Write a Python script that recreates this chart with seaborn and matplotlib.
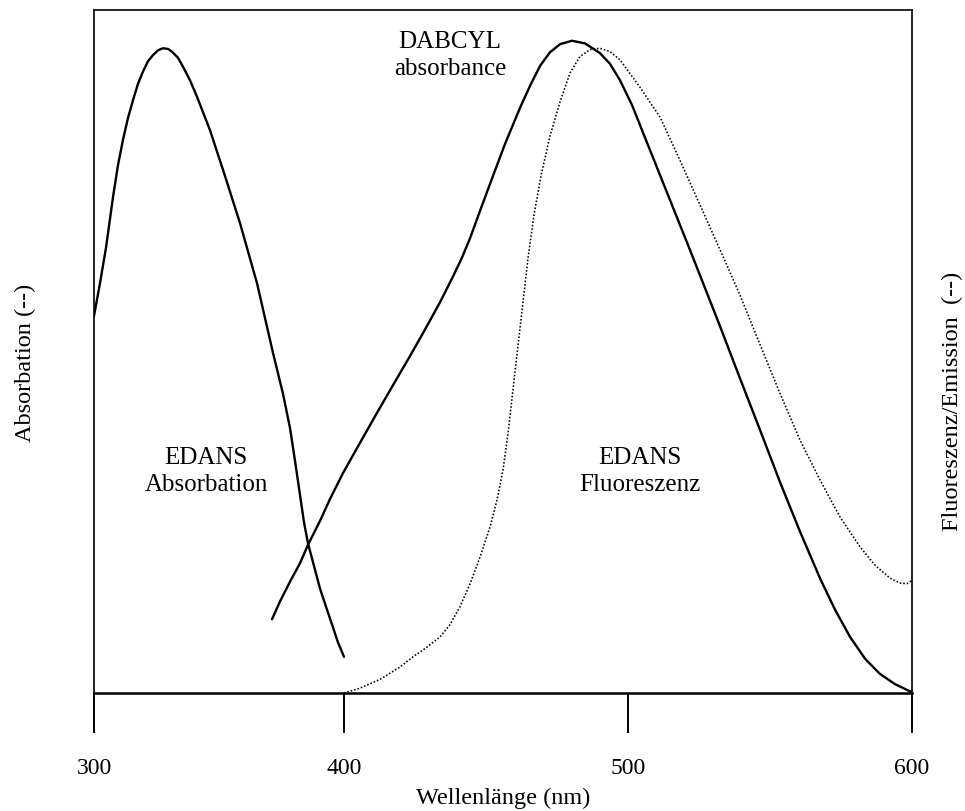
import numpy as np
import pandas as pd
import matplotlib
matplotlib.use("Agg")
import matplotlib.pyplot as plt
import seaborn as sns

# ---------------- data (wavelength in nm, relative intensity) ----------------
edans_abs_wl = [300.0, 302.4, 304.8, 307.6, 309.6, 311.6, 313.6, 315.6, 317.6, 319.6,
                321.6, 323.6, 325.6, 327.6, 329.6, 331.2, 333.6, 335.6, 338.4, 341.2,
                346.4, 351.6, 358.4, 365.2, 371.6, 375.6, 378.4, 380.4, 382.4, 384.0,
                385.6, 388.0, 390.4, 393.2, 395.6, 397.6, 400.0]
edans_abs_val = [0.552, 0.600, 0.652, 0.726, 0.773, 0.810, 0.842, 0.868, 0.892, 0.910,
                 0.925, 0.934, 0.941, 0.944, 0.943, 0.939, 0.930, 0.917, 0.897, 0.873,
                 0.824, 0.766, 0.688, 0.600, 0.498, 0.438, 0.388, 0.340, 0.290, 0.250,
                 0.219, 0.186, 0.153, 0.122, 0.096, 0.074, 0.053]

dabcyl_wl = [371.2, 374.4, 378.4, 382.4, 385.6, 390.4, 394.4, 399.6, 405.6, 411.6,
             417.3, 423.2, 428.5, 433.8, 438.4, 441.5, 444.4, 447.9, 452.1, 456.7,
             462.0, 465.5, 469.0, 472.5, 476.1, 480.3, 484.9, 490.1, 493.7, 497.2,
             501.4, 506.0, 511.3, 516.5, 521.8, 527.1, 532.4, 539.4, 546.5, 553.5,
             560.6, 567.6, 572.9, 578.2, 583.5, 588.7, 594.0, 600.0]
dabcyl_val = [0.108, 0.134, 0.163, 0.190, 0.217, 0.252, 0.284, 0.322, 0.366, 0.410,
              0.451, 0.493, 0.532, 0.572, 0.610, 0.637, 0.666, 0.706, 0.753, 0.804,
              0.857, 0.889, 0.918, 0.938, 0.950, 0.955, 0.951, 0.937, 0.921, 0.897,
              0.861, 0.813, 0.758, 0.704, 0.649, 0.593, 0.537, 0.461, 0.385, 0.309,
              0.236, 0.168, 0.122, 0.082, 0.050, 0.028, 0.013, 0.001]

edans_fl_wl = [400.0, 405.6, 412.7, 419.7, 424.3, 428.5, 433.8, 437.3, 440.8, 444.4,
               447.9, 451.4, 453.9, 456.0, 457.7, 459.5, 461.3, 463.0, 464.8, 466.9,
               469.4, 472.5, 476.1, 479.6, 483.1, 486.6, 490.1, 493.7, 497.2, 504.2,
               511.3, 518.3, 525.4, 532.4, 539.4, 546.5, 553.5, 560.6, 567.6, 574.6,
               581.7, 587.0, 592.3, 595.8, 598.2, 600.0]
edans_fl_val = [0.000, 0.007, 0.020, 0.038, 0.053, 0.065, 0.082, 0.100, 0.126, 0.160,
                0.199, 0.243, 0.283, 0.327, 0.378, 0.444, 0.510, 0.571, 0.637, 0.700,
                0.758, 0.815, 0.866, 0.908, 0.932, 0.942, 0.944, 0.939, 0.927, 0.887,
                0.843, 0.780, 0.714, 0.649, 0.583, 0.510, 0.439, 0.370, 0.312, 0.258,
                0.214, 0.187, 0.168, 0.161, 0.160, 0.165]

x_ticks = [300, 400, 500, 600]

# ---------------- style ----------------
sns.set_style("white")
plt.rcParams["font.family"] = ["Liberation Serif", "DejaVu Serif"]
plt.rcParams["text.color"] = "black"
plt.rcParams["axes.labelcolor"] = "black"
plt.rcParams["xtick.color"] = "black"

fig = plt.figure(figsize=(9.65, 8.11), dpi=100)
ax = fig.add_axes([94 / 965, (811 - 693) / 811, (912 - 94) / 965, (693 - 10) / 811])

df_abs = pd.DataFrame({"wl": edans_abs_wl, "val": edans_abs_val})
df_dab = pd.DataFrame({"wl": dabcyl_wl, "val": dabcyl_val})
df_fl = pd.DataFrame({"wl": edans_fl_wl, "val": edans_fl_val})

sns.lineplot(data=df_abs, x="wl", y="val", ax=ax, color="black", lw=1.7,
             estimator=None, sort=False)
sns.lineplot(data=df_dab, x="wl", y="val", ax=ax, color="black", lw=1.7,
             estimator=None, sort=False)
sns.lineplot(data=df_fl, x="wl", y="val", ax=ax, color="black", lw=1.15,
             estimator=None, sort=False, linestyle=(0, (1, 1.2)))

# non-uniform wavelength axis as in the original drawing
def fwd(w):
    w = np.asarray(w, dtype=float)
    return np.where(w <= 400, (w - 300) * 2.5, 250 + (w - 400) * 2.84)

def inv(p):
    p = np.asarray(p, dtype=float)
    return np.where(p <= 250, 300 + p / 2.5, 400 + (p - 250) / 2.84)

ax.set_xscale("function", functions=(fwd, inv))
ax.set_xlim(300, 600)
ax.set_ylim(0, 1)
ax.set_xticks(x_ticks)
ax.set_xticklabels([str(t) for t in x_ticks])
ax.set_yticks([])
ax.minorticks_off()
ax.tick_params(axis="x", direction="out", length=28.8, width=1.4, pad=18,
               labelsize=17, colors="black", bottom=True)

for side in ["left", "right", "top"]:
    ax.spines[side].set_linewidth(1.2)
    ax.spines[side].set_color("black")
ax.spines["bottom"].set_linewidth(1.8)
ax.spines["bottom"].set_color("black")

ax.set_xlabel("Wellenlänge (nm)", fontsize=17.5, labelpad=6, color="black")
ax.set_ylabel("")

fs = 18
ax.text(344.8, 0.324, "EDANS\nAbsorbation", ha="center", va="center",
        fontsize=fs, linespacing=1.3, color="black")
ax.text(504.2, 0.324, "EDANS\nFluoreszenz", ha="center", va="center",
        fontsize=fs, linespacing=1.3, color="black")
ax.text(437.3, 0.934, "DABCYL\nabsorbance", ha="center", va="center",
        fontsize=fs, linespacing=1.3, color="black")

fig.text(25 / 965, 1 - 363 / 811, "Absorbation (--)", rotation=90,
         ha="center", va="center", fontsize=17.5, color="black")
fig.text(952 / 965, 1 - 401 / 811, "Fluoreszenz/Emission  (--)", rotation=90,
         ha="center", va="center", fontsize=17.5, color="black")

fig.savefig("out.png", dpi=100)
